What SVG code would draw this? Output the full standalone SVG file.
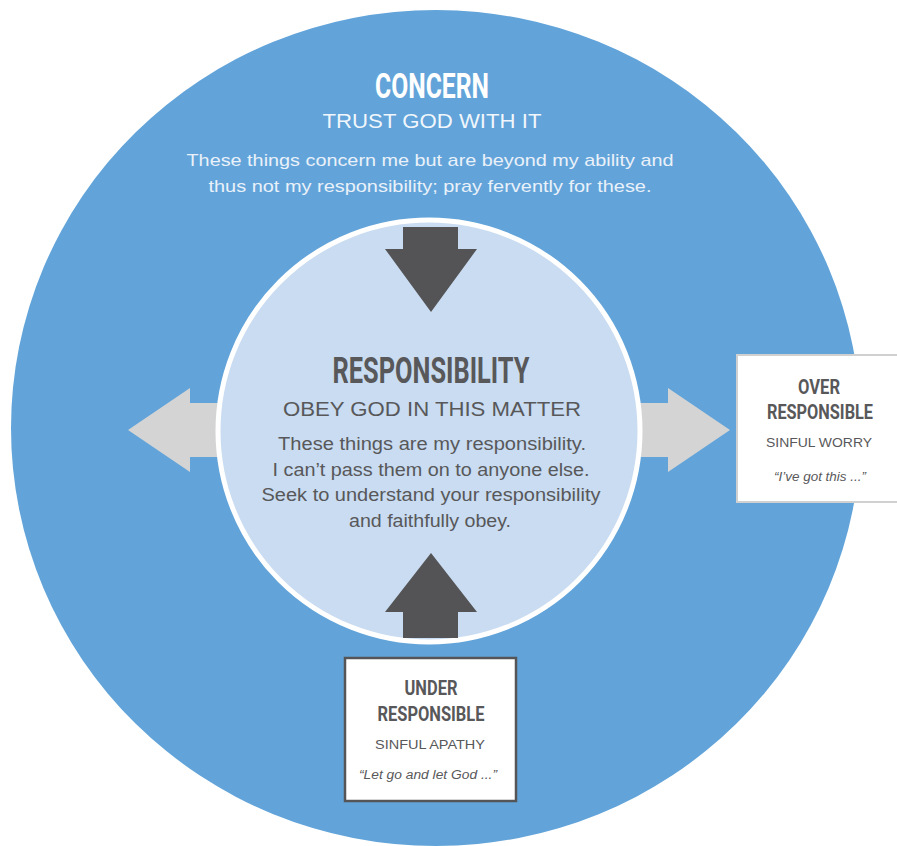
<svg xmlns="http://www.w3.org/2000/svg" width="897" height="846" viewBox="0 0 897 846">
  <style>
    .title { font-family: "Roboto", "Liberation Sans", sans-serif; font-weight: 700; text-anchor: middle; }
    .sub { font-family: "Liberation Sans", Arial, sans-serif; text-anchor: middle; }
    .body { font-family: "Liberation Sans", Arial, sans-serif; text-anchor: middle; }
    .dark { fill: #58585a; }
    .light { fill: #ffffff; }
    .arrow-dark { fill: #545456; }
    .arrow-light { fill: #d4d4d4; }
  </style>
  <rect width="897" height="846" fill="#ffffff"/>

  <!-- outer ring: concern -->
  <g id="concern">
    <ellipse cx="436" cy="428" rx="425" ry="418" fill="#62a4d9"/>
    <text class="title light" x="432" y="98" font-size="35" textLength="114" lengthAdjust="spacingAndGlyphs">CONCERN</text>
    <text class="sub light" x="432" y="128" font-size="20" fill-opacity="0.92" textLength="219" lengthAdjust="spacingAndGlyphs">TRUST GOD WITH IT</text>
    <text class="body" x="430" y="166" font-size="17" fill="#eaf1f9" textLength="487" lengthAdjust="spacingAndGlyphs">These things concern me but are beyond my ability and</text>
    <text class="body" x="430" y="192" font-size="17" fill="#eaf1f9" textLength="443" lengthAdjust="spacingAndGlyphs">thus not my responsibility; pray fervently for these.</text>
  </g>

  <!-- connectors -->
  <g id="connectors">
    <!-- left: light arrow pointing out -->
    <polygon class="arrow-light" points="240,403 190,403 190,388 128,430 190,472 190,457 240,457"/>
    <!-- right: light arrow pointing out -->
    <polygon class="arrow-light" points="620,403 668,403 668,388 730,430 668,472 668,457 620,457"/>
  </g>

  <!-- inner circle: responsibility -->
  <g id="responsibility">
    <circle cx="429" cy="431" r="211" fill="#c9dcf1" stroke="#ffffff" stroke-width="5"/>
    <text class="title dark" x="431" y="383" font-size="37" textLength="197" lengthAdjust="spacingAndGlyphs">RESPONSIBILITY</text>
    <text class="sub dark" x="432" y="416" font-size="20" textLength="298" lengthAdjust="spacingAndGlyphs">OBEY GOD IN THIS MATTER</text>
    <text class="body dark" x="432" y="450" font-size="17.5" textLength="308" lengthAdjust="spacingAndGlyphs">These things are my responsibility.</text>
    <text class="body dark" x="431" y="476" font-size="17.5" textLength="317" lengthAdjust="spacingAndGlyphs">I can’t pass them on to anyone else.</text>
    <text class="body dark" x="431" y="501" font-size="17.5" textLength="339" lengthAdjust="spacingAndGlyphs">Seek to understand your responsibility</text>
    <text class="body dark" x="430" y="527" font-size="17.5" textLength="162" lengthAdjust="spacingAndGlyphs">and faithfully obey.</text>
  </g>

  <!-- dark arrows into responsibility -->
  <g id="connectors-dark">
    <polygon class="arrow-dark" points="403,227 458,227 458,249 477,249 431,312 385,249 403,249"/>
    <polygon class="arrow-dark" points="431,553 477,612 458,612 458,638 403,638 403,612 385,612"/>
  </g>

  <!-- over responsible -->
  <g id="over-responsible">
    <rect x="737" y="355" width="164" height="147" fill="#ffffff" stroke="#d0d0d0" stroke-width="2"/>
    <text class="title dark" x="819" y="394" font-size="20" textLength="42" lengthAdjust="spacingAndGlyphs">OVER</text>
    <text class="title dark" x="820" y="419" font-size="20" textLength="106" lengthAdjust="spacingAndGlyphs">RESPONSIBLE</text>
    <text class="sub dark" x="819" y="447" font-size="13" textLength="106" lengthAdjust="spacingAndGlyphs">SINFUL WORRY</text>
    <text class="sub dark" x="820" y="481" font-size="12" font-style="italic" textLength="92" lengthAdjust="spacingAndGlyphs">“I’ve got this ...”</text>
  </g>

  <!-- under responsible -->
  <g id="under-responsible">
    <rect x="345" y="658" width="171" height="143" fill="#ffffff" stroke="#555557" stroke-width="2.5"/>
    <text class="title dark" x="431" y="695" font-size="20" textLength="53" lengthAdjust="spacingAndGlyphs">UNDER</text>
    <text class="title dark" x="431" y="721" font-size="20" textLength="107" lengthAdjust="spacingAndGlyphs">RESPONSIBLE</text>
    <text class="sub dark" x="430" y="749" font-size="13" textLength="110" lengthAdjust="spacingAndGlyphs">SINFUL APATHY</text>
    <text class="sub dark" x="428" y="779" font-size="12" font-style="italic" textLength="138" lengthAdjust="spacingAndGlyphs">“Let go and let God ...”</text>
  </g>
</svg>
